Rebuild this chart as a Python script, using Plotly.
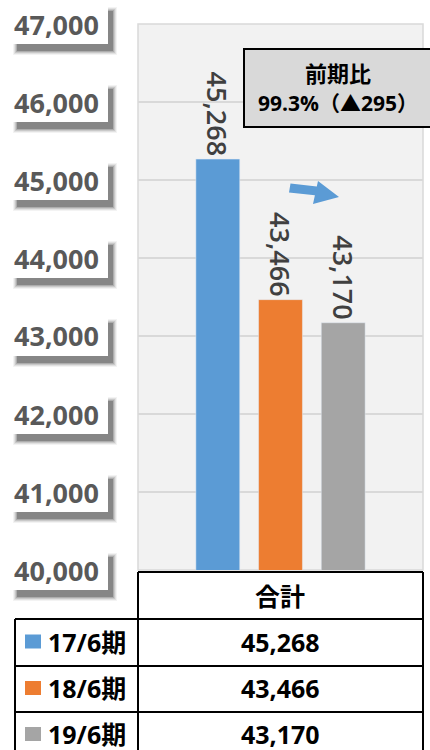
import plotly.graph_objects as go

# ---- data ----
periods = ["17/6期", "18/6期", "19/6期"]
totals = [45268, 43466, 43170]
colors = ["#5b9bd5", "#ed7d31", "#a5a5a5"]
category = "合計"
y_ticks = [40000, 41000, 42000, 43000, 44000, 45000, 46000, 47000]
ratio_title = "前期比"
ratio_text = "99.3%（▲295）"

W, H = 430, 750
FONT = "Open Sans, Noto Sans CJK JP, sans-serif"

# plot area in pixels
PX_L, PX_R, PX_T, PX_B = 138, 423, 24, 570
Y_MIN, Y_MAX = y_ticks[0], y_ticks[-1]


def fx(px):
    return px / W


def fy(py):
    return 1 - py / H


def value_to_py(v):
    return PX_B - (v - Y_MIN) / (Y_MAX - Y_MIN) * (PX_B - PX_T)


def label(x, y, text, size, color="black", weight="bold", xanchor="center"):
    return dict(xref="paper", yref="paper", x=x, y=y, text=text, showarrow=False,
                xanchor=xanchor, yanchor="middle",
                font=dict(family=FONT, size=size, color=color, weight=weight))


def prect(x0, x1, y0, y1, **kw):
    return dict(type="rect", xref="paper", yref="paper",
                x0=fx(x0), x1=fx(x1), y0=fy(y1), y1=fy(y0), **kw)


fig = go.Figure()
for name, val, col in zip(periods, totals, colors):
    fig.add_trace(go.Bar(
        name=name, x=[category], y=[val], marker_color=col,
        text=[f"{val:,}"], textposition="outside", textangle=90,
        constraintext="none", cliponaxis=False,
        textfont=dict(family=FONT, size=27, color="#404040", weight=600),
        showlegend=False,
    ))

shapes = []
annotations = []

# plot-area frame
shapes.append(prect(PX_L, PX_R, PX_T, PX_B,
                    line=dict(color="#d9d9d9", width=1.5), layer="below"))

# y tick labels in white boxes with soft drop shadows
for v in y_ticks:
    c = value_to_py(v)
    for k, op in [(4, 0.06), (3, 0.09), (2, 0.13), (1, 0.18), (0, 0.3)]:
        shapes.append(prect(17 - k, 113 + k, c - 13 - k, c + 27 + k,
                            fillcolor="#303030", opacity=op, line_width=0))
    shapes.append(prect(12, 108, c - 20, c + 20, fillcolor="white", line_width=0))
    annotations.append(label(fx(57), fy(c), f"{v:,}", 27, color="#595959"))

# comparison box
shapes.append(prect(244, 436, 49, 127, fillcolor="#d9d9d9",
                    line=dict(color="black", width=2)))
annotations.append(label(fx(338), fy(73), ratio_title, 22))
annotations.append(label(fx(338), fy(103), ratio_text, 21))

# trend arrow
arrow_pts = [(290.5, 183.5), (316.8, 186.5), (318, 181), (339, 197),
             (313, 204), (314.9, 195.3), (289, 192.5)]
path = "M " + " L ".join(f"{fx(x):.5f},{fy(y):.5f}" for x, y in arrow_pts) + " Z"
shapes.append(dict(type="path", xref="paper", yref="paper", path=path,
                   fillcolor="#5b9bd5", line_width=0))

# data table
bk = dict(color="black", width=2)
rows_y = [572, 619, 666, 712, 758]


def pline(x0, x1, y0, y1):
    return dict(type="line", xref="paper", yref="paper",
                x0=fx(x0), x1=fx(x1), y0=fy(y0), y1=fy(y1), line=bk)


shapes.append(pline(PX_L, PX_R, 572, 572))
for xv in (PX_L, PX_R):
    shapes.append(pline(xv, xv, 572, 760))
shapes.append(pline(15, 15, 619, 760))
for ry in rows_y[1:4]:
    shapes.append(pline(15, PX_R, ry, ry))

annotations.append(label(fx(280), fy(596), category, 25))

for i, (name, val, col) in enumerate(zip(periods, totals, colors)):
    cy = (rows_y[i + 1] + rows_y[i + 2]) / 2 - 1
    shapes.append(prect(25, 41, cy - 7, cy + 7, fillcolor=col, line_width=0))
    annotations.append(label(fx(46), fy(cy), name, 25, xanchor="left"))
    annotations.append(label(fx(280), fy(cy), f"{val:,}", 25))

fig.update_layout(
    width=W, height=H, margin=dict(l=0, r=0, t=0, b=0),
    paper_bgcolor="white", plot_bgcolor="#f2f2f2",
    barmode="group", bargap=0.34, bargroupgap=0.3,
    xaxis=dict(domain=[fx(PX_L), fx(PX_R)], showticklabels=False,
               showgrid=False, zeroline=False, fixedrange=True),
    yaxis=dict(domain=[fy(PX_B), fy(PX_T)], range=[Y_MIN, Y_MAX],
               tickvals=y_ticks, showticklabels=False,
               gridcolor="#d9d9d9", gridwidth=1.5, zeroline=False),
    shapes=shapes, annotations=annotations,
    font=dict(family=FONT),
)

fig.write_html("out.html")
